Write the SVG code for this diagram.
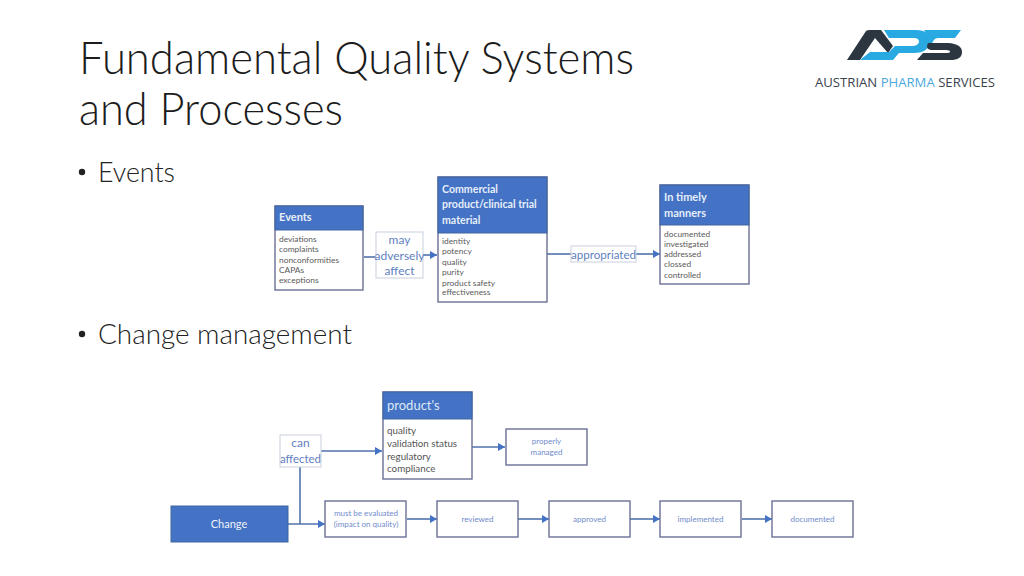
<svg xmlns="http://www.w3.org/2000/svg" width="1024" height="576" viewBox="0 0 1024 576">
<style>
text{font-family:"Lato","Open Sans","Liberation Sans",sans-serif}
.title{font-size:45px;font-weight:300;fill:#1c1c1c}
.bul{font-size:27px;font-weight:300;fill:#222}
.h{fill:#4472c4;stroke:#41669f;stroke-width:1}
.b{fill:#fff;stroke:#6b6f96;stroke-width:1.4}
.lb{fill:#fff;stroke:#c9cfdc;stroke-width:1}
.hd{fill:#e6eefa;font-weight:700}
.it{fill:#5a5a5a;font-size:8.4px}
.it2{fill:#555;font-size:9.8px}
.lab{fill:#5f7fc0;font-size:12px}
.s{fill:#6f8bcb;font-size:8px;text-anchor:middle}
.m{text-anchor:middle}
.c{fill:none;stroke:#5273ad;stroke-width:1.6}
.ar{fill:#4472c4}
</style>
<defs>
<marker id="a" markerWidth="7" markerHeight="8" refX="7" refY="4" orient="auto" markerUnits="userSpaceOnUse"><path d="M0 0L7 4L0 8Z" class="ar"/></marker>
</defs>
<g id="heading">
<text class="title" x="79" y="74" textLength="555" lengthAdjust="spacingAndGlyphs">Fundamental Quality Systems</text>
<text class="title" x="79" y="125" textLength="264" lengthAdjust="spacingAndGlyphs">and Processes</text>
<circle cx="82" cy="172" r="3.200" fill="#222"/><text class="bul" x="98" y="182" textLength="77" lengthAdjust="spacingAndGlyphs">Events</text>
<circle cx="82" cy="334" r="3.200" fill="#222"/><text class="bul" x="98" y="344" textLength="254" lengthAdjust="spacingAndGlyphs">Change management</text>
</g>
<g id="logo">
<path d="M847 60L866 31Q867 30 870 30H881L893 46L888 53L875 38L860 60Z" fill="#2b3640"/>
<path d="M860 60L870 52H889L895 46H912Q918 46 919 42Q919 38 914 38H889L884 30H916Q930 30 930 41Q929 53 914 53H899L893 60Z" fill="#29a9e1"/>
<path d="M924 30H961L955 38H938Q933 38 932 45H927Q930 36 924 30Z" fill="#29a9e1"/>
<path d="M928 43H948Q962 44 962 52Q962 60 950 60H917L923 53H946Q950 53 950 51.500Q950 50 946 50H931Q925 49 928 43Z" fill="#2b3640"/>
<text x="815" y="87" font-size="12.500" textLength="180" lengthAdjust="spacingAndGlyphs" fill="#3a434b" style="font-family:'Open Sans',sans-serif">AUSTRIAN <tspan fill="#4ba8dc">PHARMA</tspan> SERVICES</text>
</g>
<g id="connectors">
<path class="c" d="M364 257H376"/>
<path class="c" d="M423 255H437" marker-end="url(#a)"/>
<path class="c" d="M547 254H571"/>
<path class="c" d="M636 254H660" marker-end="url(#a)"/>
<path class="c" d="M321 451H382" marker-end="url(#a)"/>
<path class="c" d="M472 447H505" marker-end="url(#a)"/>
<path class="c" d="M300 467V524"/>
<path class="c" d="M288 524H325" marker-end="url(#a)"/>
<path class="c" d="M407 519H437" marker-end="url(#a)"/>
<path class="c" d="M518 519H549" marker-end="url(#a)"/>
<path class="c" d="M630 519H660" marker-end="url(#a)"/>
<path class="c" d="M742 519H772" marker-end="url(#a)"/>
</g>
<g id="events">
<rect class="b" x="275" y="206" width="88" height="84"/><rect class="h" x="275" y="206" width="88" height="24"/>
<text class="hd" x="279" y="221" font-size="11">Events</text>
<text class="it"><tspan x="279" y="242">deviations</tspan><tspan x="279" y="252.300">complaints</tspan><tspan x="279" y="262.600">nonconformities</tspan><tspan x="279" y="272.500">CAPAs</tspan><tspan x="279" y="283">exceptions</tspan></text>
</g>
<g id="may-adversely-affect">
<rect class="lb" x="376" y="232" width="47" height="46"/>
<text class="lab m"><tspan x="399.500" y="244">may</tspan><tspan x="399.500" y="259.500">adversely</tspan><tspan x="399.500" y="275">affect</tspan></text>
</g>
<g id="material">
<rect class="b" x="438" y="177" width="109" height="125"/><rect class="h" x="438" y="177" width="109" height="56"/>
<text class="hd" font-size="10.600"><tspan x="442" y="193">Commercial</tspan><tspan x="442" y="208">product/clinical trial</tspan><tspan x="442" y="224">material</tspan></text>
<text class="it"><tspan x="442" y="244">identity</tspan><tspan x="442" y="254">potency</tspan><tspan x="442" y="264.500">quality</tspan><tspan x="442" y="275">purity</tspan><tspan x="442" y="285.500">product safety</tspan><tspan x="442" y="295">effectiveness</tspan></text>
</g>
<g id="appropriated">
<rect class="lb" x="571" y="246" width="65" height="16"/>
<text class="lab m" x="603.500" y="259" textLength="65" lengthAdjust="spacingAndGlyphs">appropriated</text>
</g>
<g id="timely">
<rect class="b" x="660" y="185" width="89" height="99"/><rect class="h" x="660" y="185" width="89" height="40"/>
<text class="hd" font-size="11"><tspan x="664" y="201">In timely</tspan><tspan x="664" y="217">manners</tspan></text>
<text class="it"><tspan x="664" y="237">documented</tspan><tspan x="664" y="247">investigated</tspan><tspan x="664" y="257">addressed</tspan><tspan x="664" y="267">clossed</tspan><tspan x="664" y="278">controlled</tspan></text>
</g>
<g id="products">
<rect class="b" x="383" y="392" width="89" height="87"/><rect class="h" x="383" y="392" width="89" height="27"/>
<text x="387" y="410" font-size="13" fill="#dceaf8">product's</text>
<text class="it2"><tspan x="387" y="434">quality</tspan><tspan x="387" y="446.500">validation status</tspan><tspan x="387" y="459.500">regulatory</tspan><tspan x="387" y="472">compliance</tspan></text>
</g>
<g id="can-affected">
<rect class="lb" x="280" y="435" width="41" height="32"/>
<text class="lab m"><tspan x="300.500" y="447">can</tspan><tspan x="300.500" y="463" textLength="41" lengthAdjust="spacingAndGlyphs">affected</tspan></text>
</g>
<g id="properly-managed">
<rect class="b" x="506" y="429" width="81" height="36"/>
<text class="s"><tspan x="546.500" y="444">properly</tspan><tspan x="546.500" y="455">managed</tspan></text>
</g>
<g id="change">
<rect class="h" x="171" y="506" width="117" height="36"/>
<text x="229" y="528" font-size="11" fill="#eef3fb" class="m">Change</text>
</g>
<g id="evaluated">
<rect class="b" x="325" y="501" width="81" height="36"/>
<text class="s"><tspan x="366" y="516">must be evaluated</tspan><tspan x="366" y="527">(impact on quality)</tspan></text>
</g>
<g id="reviewed"><rect class="b" x="437" y="501" width="81" height="36"/><text class="s" x="477.500" y="522">reviewed</text></g>
<g id="approved"><rect class="b" x="549" y="501" width="81" height="36"/><text class="s" x="589.500" y="522">approved</text></g>
<g id="implemented"><rect class="b" x="660" y="501" width="81" height="36"/><text class="s" x="700.500" y="522">implemented</text></g>
<g id="documented"><rect class="b" x="772" y="501" width="81" height="36"/><text class="s" x="812.500" y="522">documented</text></g>
</svg>
